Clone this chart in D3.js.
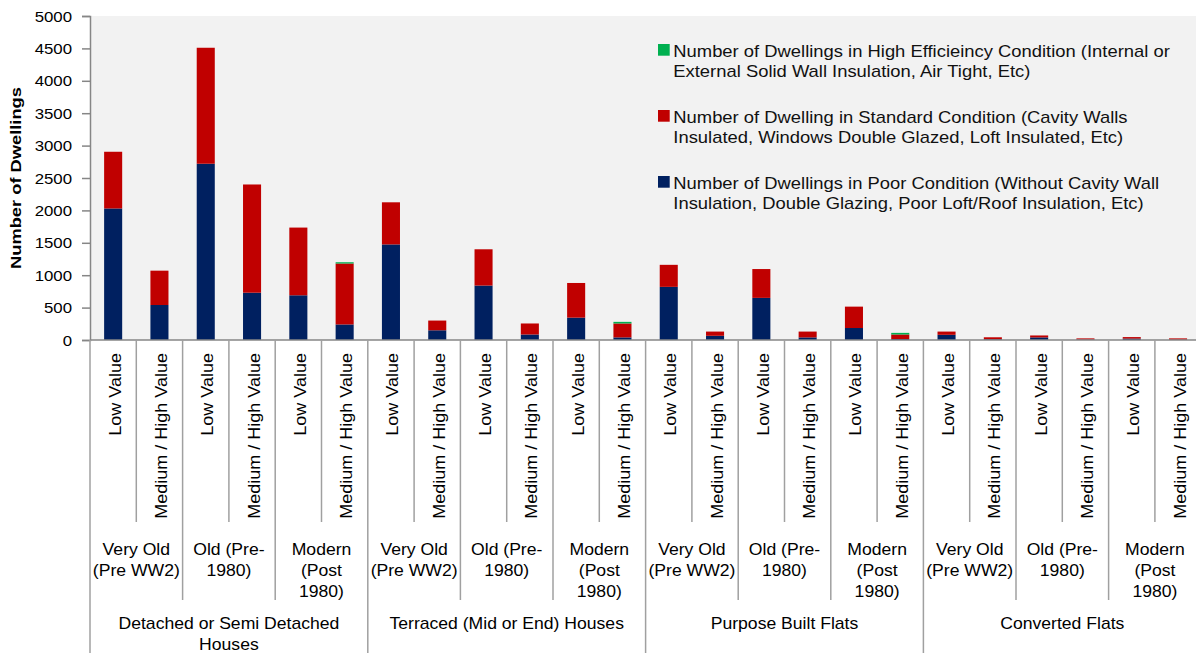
<!DOCTYPE html>
<html>
<head>
<meta charset="utf-8">
<script src="https://cdn.jsdelivr.net/npm/d3@7"></script>
<style>
  html, body { margin: 0; padding: 0; background: #ffffff; }
  svg { display: block; font-family: "Liberation Sans", Arial, sans-serif; }
</style>
</head>
<body>
<svg id="chart" width="1196" height="653"></svg>
<script>
// ---------------- DATA ----------------
const ageGroups = ["Very Old\n(Pre WW2)", "Old (Pre-\n1980)", "Modern\n(Post\n1980)"];
const valueGroups = ["Low Value", "Medium / High Value"];
const dwellingTypes = ["Detached or Semi Detached\nHouses", "Terraced  (Mid or End) Houses", "Purpose Built Flats", "Converted Flats"];

const seriesNames = [
  "Number of Dwellings in Poor Condition (Without Cavity Wall\nInsulation, Double Glazing, Poor Loft/Roof Insulation, Etc)",
  "Number of Dwelling in Standard Condition (Cavity Walls\nInsulated, Windows Double Glazed, Loft Insulated, Etc)",
  "Number of Dwellings in High Efficieincy Condition (Internal or\nExternal Solid Wall Insulation, Air Tight, Etc)"
];
const seriesColors = ["#002060", "#C00000", "#00B050"];

const poorValues = [2030, 540, 2720, 730, 690, 240, 1475, 150, 840, 85, 345, 40,
                    820, 65, 650, 40, 185, 15, 80, 12, 40, 6, 22, 4];
const standardValues = [875, 530, 1790, 1670, 1045, 940, 650, 150, 560, 170, 535, 215,
                        340, 65, 445, 90, 330, 70, 50, 30, 30, 19, 23, 21];
const highValues = [0, 0, 0, 0, 0, 20, 0, 0, 0, 0, 0, 25,
                    0, 0, 0, 0, 0, 25, 0, 0, 0, 0, 0, 0];

const yTicks = [0, 500, 1000, 1500, 2000, 2500, 3000, 3500, 4000, 4500, 5000];
const yTitle = "Number of Dwellings";

// ---------------- BUILD ----------------
const nPer2 = valueGroups.length;
const nPer3 = ageGroups.length * nPer2;
const rows = [];
dwellingTypes.forEach((t, ti) => ageGroups.forEach((a, ai) => valueGroups.forEach((v, vi) => {
  const i = rows.length;
  rows.push({ i, type: t, age: a, val: v, poor: poorValues[i], standard: standardValues[i], high: highValues[i] });
})));

const svg = d3.select("#chart");
const plotLeft = 90, plotTop = 16, plotBottom = 340, slot = 46.3;

const x = d3.scaleBand().domain(rows.map(d => d.i))
  .range([plotLeft, plotLeft + slot * rows.length]).paddingInner(0.61).paddingOuter(0.305);
const y = d3.scaleLinear().domain([0, 5000]).range([plotBottom, plotTop]);

// plot background
svg.append("rect").attr("x", plotLeft).attr("y", plotTop).attr("width", 1196 - plotLeft).attr("height", plotBottom - plotTop)
  .attr("fill", "#F2F2F2");

// stretched text helper
function stext(g, px, py, str, o) {
  const t = g.append("text")
    .attr("transform", `translate(${px},${py})` + (o.rot ? " rotate(-90)" : "") + ` scale(${o.sx || 1},1)`)
    .attr("font-size", o.size + "px")
    .attr("text-anchor", o.anchor || "start")
    .attr("fill", o.fill || "#000")
    .text(str);
  if (o.weight) t.attr("font-weight", o.weight);
  return t;
}

// stacked bars
const keys = ["poor", "standard", "high"];
const stack = d3.stack().keys(keys)(rows);
svg.append("g").selectAll("g").data(stack).join("g")
  .attr("fill", (d, i) => seriesColors[i])
  .selectAll("rect").data(d => d).join("rect")
  .attr("x", d => x(d.data.i))
  .attr("width", x.bandwidth())
  .attr("y", d => y(d[1]))
  .attr("height", d => Math.max(0, y(d[0]) - y(d[1])));

// y axis
const yAxis = svg.append("g").attr("transform", `translate(${plotLeft},0)`)
  .call(d3.axisLeft(y).tickValues(yTicks).tickSize(8).tickPadding(0).tickFormat(d3.format("d")));
yAxis.select(".domain").attr("stroke", "#868686").attr("stroke-width", 1.5);
yAxis.selectAll(".tick line").attr("stroke", "#868686").attr("stroke-width", 1.5);
yAxis.selectAll(".tick text")
  .attr("x", null).attr("dy", null)
  .attr("font-size", "14px").attr("font-family", "'Liberation Sans', Arial, sans-serif")
  .attr("fill", "#000")
  .attr("transform", "translate(-18,5) scale(1.2,1)");

// y title
stext(svg, 21, 178, yTitle, { size: 15, sx: 1.22, rot: true, anchor: "middle", weight: "bold" });

// x axis line
svg.append("line").attr("x1", plotLeft).attr("x2", 1196).attr("y1", plotBottom).attr("y2", plotBottom)
  .attr("stroke", "#868686").attr("stroke-width", 1.5);

// category separators
const sep = svg.append("g").attr("stroke", "#A0A0A0").attr("stroke-width", 1.5);
for (let k = 0; k <= rows.length; k++) {
  const bx = plotLeft + k * slot;
  let y2 = 522;
  if (k % nPer3 === 0) y2 = 653;
  else if (k % nPer2 === 0) y2 = 600;
  sep.append("line").attr("x1", bx).attr("x2", bx).attr("y1", plotBottom).attr("y2", y2);
}

// level 1 rotated labels
const lab = svg.append("g");
rows.forEach(d => {
  const cx = x(d.i) + x.bandwidth() / 2;
  stext(lab, cx + 7.5, 353, d.val, { size: 17, sx: 1.06, rot: true, anchor: "end" });
});

// level 2 labels
d3.range(rows.length / nPer2).forEach(k => {
  const cx = plotLeft + (k * nPer2 + nPer2 / 2) * slot;
  const lines = ageGroups[k % ageGroups.length].split("\n");
  lines.forEach((ln, li) => stext(lab, cx, 555 + li * 21, ln, { size: 16, sx: 1.1, anchor: "middle" }));
});

// level 3 labels
dwellingTypes.forEach((t, k) => {
  const cx = plotLeft + (k * nPer3 + nPer3 / 2) * slot;
  t.split("\n").forEach((ln, li) => stext(lab, cx, 629 + li * 21, ln, { size: 16, sx: 1.1, anchor: "middle" }));
});

// legend (high, standard, poor from top)
const legOrder = [2, 1, 0];
const leg = svg.append("g");
legOrder.forEach((si, r) => {
  const by = 44 + r * 66;
  leg.append("rect").attr("x", 658).attr("y", by).attr("width", 11.7).attr("height", 11.7)
    .attr("fill", seriesColors[si]);
  seriesNames[si].split("\n").forEach((ln, li) =>
    stext(leg, 673.3, by + 12.7 + li * 20, ln, { size: 16, sx: 1.15, anchor: "start", fill: "#111" }));
});
</script>
</body>
</html>
